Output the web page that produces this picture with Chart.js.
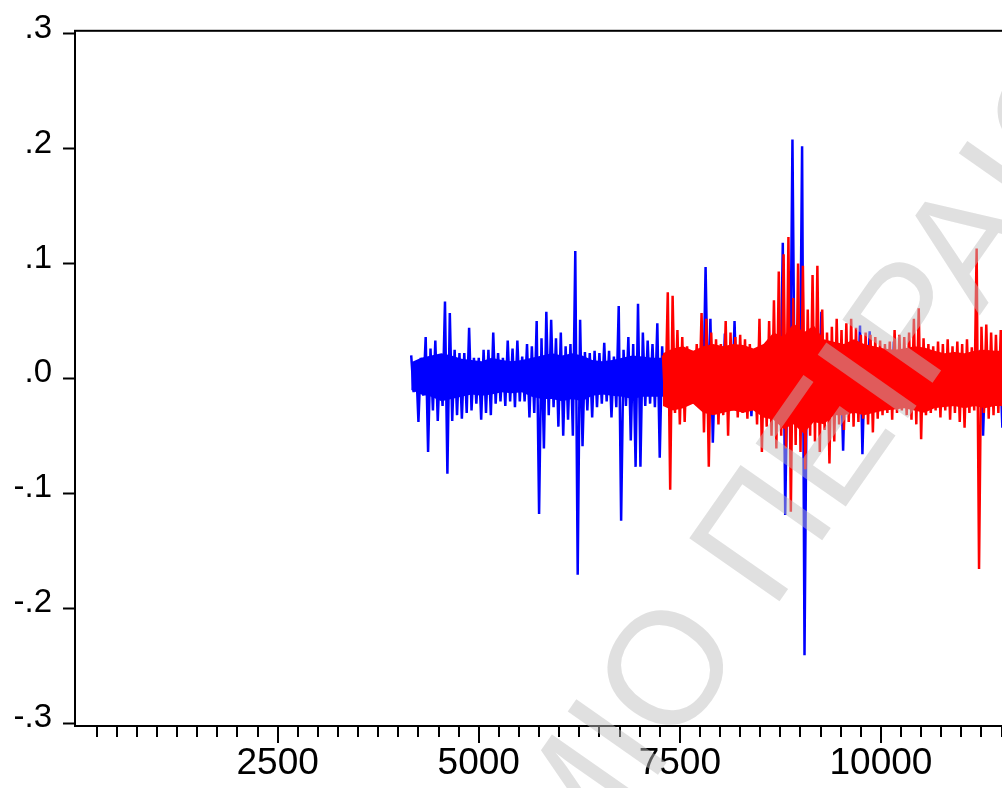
<!DOCTYPE html>
<html>
<head>
<meta charset="utf-8">
<script src="https://cdn.jsdelivr.net/npm/chart.js@4.4.1/dist/chart.umd.min.js"></script>
<style>
  html, body { margin: 0; padding: 0; background: #fff; overflow: hidden; }
  #wrap { width: 1100px; height: 788px; }
</style>
</head>
<body>
<div id="wrap"><canvas id="residChart" width="1100" height="788"></canvas></div>
<script>
// observation spacing of the stored points, first observation of each sample
const obsStep = 30;
const coreStep = 125;
const blueStart = 4160;
const redStart = 7290;

// full-sample residuals (alternating local high / local low)
const blueResid = [
  0.020,-0.012, 0.015,-0.038, 0.018,-0.015, 0.036,-0.064, 0.026,-0.028,
  0.033,-0.037, 0.019,-0.024, 0.067,-0.083, 0.057,-0.037, 0.025,-0.032,
  0.022,-0.035, 0.022,-0.030, 0.044,-0.028, 0.018,-0.022, 0.018,-0.036,
  0.025,-0.030, 0.025,-0.032, 0.040,-0.022, 0.022,-0.020, 0.018,-0.024,
  0.033,-0.020, 0.026,-0.025, 0.033,-0.020, 0.019,-0.020, 0.030,-0.034,
  0.028,-0.030, 0.050,-0.118, 0.035,-0.061, 0.058,-0.032, 0.051,-0.025,
  0.035,-0.042, 0.040,-0.050, 0.028,-0.036, 0.030,-0.050, 0.111,-0.171,
  0.051,-0.059, 0.023,-0.028, 0.022,-0.034, 0.024,-0.025, 0.022,-0.022,
  0.031,-0.020, 0.024,-0.034, 0.019,-0.025, 0.063,-0.124, 0.025,-0.024,
  0.036,-0.054, 0.030,-0.077, 0.065,-0.077, 0.040,-0.024, 0.033,-0.022,
  0.030,-0.025, 0.048,-0.069, 0.028,-0.022, 0.020,-0.020, 0.018,-0.022,
  0.020,-0.018, 0.019,-0.021, 0.018,-0.020, 0.020,-0.022, 0.017,-0.019,
  0.020,-0.021, 0.097,-0.020, 0.052,-0.056, 0.018,-0.020, 0.020,-0.022,
  0.039,-0.020, 0.018,-0.021, 0.050,-0.022, 0.019,-0.020, 0.020,-0.022,
  0.018,-0.033, 0.020,-0.021, 0.019,-0.020, 0.021,-0.022, 0.018,-0.020,
  0.020,-0.021, 0.019,-0.022, 0.118,-0.119, 0.020,-0.030, 0.208,-0.040,
  0.030,-0.035, 0.202,-0.241, 0.025,-0.030, 0.020,-0.025, 0.022,-0.024,
  0.058,-0.030, 0.020,-0.025, 0.022,-0.022, 0.019,-0.021, 0.020,-0.063,
  0.021,-0.022, 0.019,-0.020, 0.020,-0.022, 0.046,-0.066, 0.018,-0.021,
  0.041,-0.020, 0.019,-0.022, 0.020,-0.020, 0.018,-0.021, 0.019,-0.020,
  0.032,-0.022, 0.018,-0.020, 0.020,-0.021, 0.019,-0.022, 0.018,-0.020,
  0.020,-0.021, 0.019,-0.020, 0.018,-0.022, 0.020,-0.021, 0.019,-0.020,
  0.018,-0.022, 0.020,-0.020, 0.019,-0.021, 0.018,-0.020, 0.020,-0.022,
  0.019,-0.021, 0.018,-0.020, 0.020,-0.022, 0.025,-0.050, 0.019,-0.021,
  0.018,-0.020, 0.020,-0.022, 0.019,-0.043
];

// dense middle of the full sample: upper / lower edge every 125 obs
const blueCoreHi = [
  0.014, 0.018, 0.020, 0.022, 0.020, 0.017, 0.016, 0.015, 0.018, 0.016,
  0.015, 0.016, 0.018, 0.020, 0.022, 0.020, 0.022, 0.020, 0.016, 0.015,
  0.016, 0.018, 0.020, 0.019, 0.018, 0.018, 0.016, 0.016, 0.016, 0.016,
  0.016, 0.016, 0.016, 0.016, 0.016, 0.016, 0.016, 0.016, 0.016, 0.016,
  0.016, 0.016, 0.016, 0.016, 0.016, 0.016, 0.016, 0.016, 0.016, 0.016,
  0.016, 0.016, 0.016, 0.016, 0.016, 0.016, 0.016, 0.016, 0.016, 0.016, 0.016
];
const blueCoreLo = [
  -0.010, -0.014, -0.016, -0.020, -0.018, -0.016, -0.014, -0.015, -0.014, -0.012,
  -0.013, -0.012, -0.016, -0.018, -0.018, -0.020, -0.018, -0.020, -0.015, -0.014,
  -0.015, -0.016, -0.018, -0.016, -0.016, -0.016, -0.014, -0.014, -0.014, -0.014,
  -0.014, -0.014, -0.014, -0.014, -0.014, -0.014, -0.014, -0.014, -0.014, -0.014,
  -0.014, -0.014, -0.014, -0.014, -0.014, -0.014, -0.014, -0.014, -0.014, -0.014,
  -0.014, -0.014, -0.014, -0.014, -0.014, -0.014, -0.014, -0.014, -0.014, -0.014, -0.014
];

// second-sample residuals
const redResid = [
  0.020,-0.024, 0.075,-0.097, 0.072,-0.030, 0.042,-0.040, 0.036,-0.038,
  0.028,-0.022, 0.024,-0.018, 0.030,-0.022, 0.057,-0.047, 0.052,-0.077,
  0.040,-0.028, 0.034,-0.040, 0.030,-0.032, 0.050,-0.050, 0.040,-0.028,
  0.036,-0.034, 0.038,-0.030, 0.034,-0.035, 0.030,-0.026, 0.022,-0.040,
  0.052,-0.064, 0.030,-0.042, 0.050,-0.050, 0.068,-0.061, 0.093,-0.050,
  0.108,-0.061, 0.123,-0.116, 0.070,-0.058, 0.100,-0.064, 0.098,-0.079,
  0.060,-0.050, 0.090,-0.055, 0.098,-0.064, 0.060,-0.045, 0.040,-0.074,
  0.045,-0.055, 0.052,-0.040, 0.042,-0.045, 0.048,-0.038, 0.052,-0.042,
  0.044,-0.038, 0.038,-0.035, 0.040,-0.040, 0.038,-0.047, 0.036,-0.035,
  0.033,-0.032, 0.030,-0.030, 0.032,-0.036, 0.042,-0.030, 0.038,-0.028,
  0.036,-0.032, 0.040,-0.036, 0.052,-0.040, 0.061,-0.053, 0.035,-0.032,
  0.030,-0.030, 0.028,-0.028, 0.032,-0.034, 0.030,-0.028, 0.034,-0.036,
  0.028,-0.030, 0.032,-0.038, 0.030,-0.043, 0.034,-0.030, 0.027,-0.028,
  0.113,-0.166, 0.045,-0.030, 0.047,-0.035, 0.040,-0.032, 0.038,-0.030,
  0.042,-0.028
];

const redCoreHi = [
  0.022, 0.026, 0.028, 0.024, 0.028, 0.030, 0.028, 0.030, 0.029, 0.026,
  0.030, 0.040, 0.036, 0.048, 0.040, 0.046, 0.034, 0.032, 0.030, 0.034,
  0.030, 0.028, 0.026, 0.025, 0.026, 0.028, 0.027, 0.024, 0.022, 0.023,
  0.022, 0.024, 0.025, 0.024, 0.024
];
const redCoreLo = [
  -0.024, -0.028, -0.026, -0.022, -0.030, -0.032, -0.030, -0.028, -0.030, -0.028,
  -0.034, -0.036, -0.044, -0.040, -0.048, -0.038, -0.040, -0.032, -0.032, -0.030,
  -0.032, -0.030, -0.028, -0.027, -0.026, -0.028, -0.030, -0.026, -0.025, -0.024,
  -0.026, -0.024, -0.026, -0.024, -0.024
];

// axis ticks
const yTickValues = [-0.3, -0.2, -0.1, 0, 0.1, 0.2, 0.3];
const yTickLabels = ['-.3', '-.2', '-.1', '.0', '.1', '.2', '.3'];
const xLabelTicks = [2500, 5000, 7500, 10000];
const xMajorStep = 2500;
const xMinorStep = 250;
const xMax = 12500;

const toPoints = (vals, start, step) => vals.map((v, i) => ({ x: start + i * step, y: v }));

const xTickValues = [];
for (let t = xMinorStep; t <= xMax; t += xMinorStep) xTickValues.push(t);

// box around the plot + x tick marks (short minor, long major)
const framePlugin = {
  id: 'frame',
  afterDraw(chart) {
    const c = chart.ctx;
    const a = chart.chartArea;
    const xs = chart.scales.x;
    c.save();
    c.strokeStyle = '#000';
    c.lineWidth = 2;
    c.strokeRect(a.left, a.top, a.right - a.left, a.bottom - a.top);
    c.beginPath();
    for (const t of xTickValues) {
      const px = Math.round(xs.getPixelForValue(t));
      const len = t % xMajorStep === 0 ? 17 : 11;
      c.moveTo(px, a.bottom);
      c.lineTo(px, a.bottom + len);
    }
    c.stroke();
    c.restore();
  }
};

const watermarkPlugin = {
  id: 'watermark',
  afterDraw(chart) {
    const c = chart.ctx;
    c.save();
    c.translate(772, 612);
    c.rotate(-55 * Math.PI / 180);
    c.font = '160px "Liberation Sans", Arial, sans-serif';
    c.fillStyle = 'rgba(190,190,190,0.48)';
    c.textBaseline = 'alphabetic';
    c.textAlign = 'right';
    c.fillText('ΠΑΝΕΠΙΣΤΗΜΙΟ ', 0, 0);
    c.textAlign = 'left';
    c.fillText('ΠΕΙΡΑΙΩΣ', 0, 0);
    c.restore();
  }
};

const lineStyle = { borderWidth: 2.5, borderJoinStyle: 'bevel', pointRadius: 0, tension: 0 };
const coreStyle = { borderWidth: 0, pointRadius: 0, tension: 0 };

const ctx = document.getElementById('residChart').getContext('2d');
const residChart = new Chart(ctx, {
  type: 'line',
  data: {
    datasets: [
      { ...lineStyle, label: 'RESID02', data: toPoints(redResid, redStart, obsStep),
        borderColor: '#ff0000', fill: false, order: 0 },
      { ...coreStyle, label: 'RESID02 hi', data: toPoints(redCoreHi, redStart, coreStep),
        borderColor: '#ff0000', backgroundColor: '#ff0000', fill: '+1', order: 1 },
      { ...coreStyle, label: 'RESID02 lo', data: toPoints(redCoreLo, redStart, coreStep),
        borderColor: '#ff0000', fill: false, order: 2 },
      { ...lineStyle, label: 'RESID01', data: toPoints(blueResid, blueStart, obsStep),
        borderColor: '#0000ff', fill: false, order: 3 },
      { ...coreStyle, label: 'RESID01 hi', data: toPoints(blueCoreHi, blueStart, coreStep),
        borderColor: '#0000ff', backgroundColor: '#0000ff', fill: '+1', order: 4 },
      { ...coreStyle, label: 'RESID01 lo', data: toPoints(blueCoreLo, blueStart, coreStep),
        borderColor: '#0000ff', fill: false, order: 5 }
    ]
  },
  options: {
    responsive: false,
    animation: false,
    events: [],
    layout: { padding: { top: 26, right: 18, left: 0, bottom: 0 } },
    plugins: { legend: { display: false }, tooltip: { enabled: false } },
    scales: {
      x: {
        type: 'linear',
        min: -20,
        max: xMax,
        afterBuildTicks: s => { s.ticks = xLabelTicks.map(v => ({ value: v })); },
        afterFit: s => { s.height = 62; },
        grid: { drawOnChartArea: false, drawTicks: false },
        border: { display: false },
        ticks: {
          autoSkip: false,
          maxRotation: 0,
          padding: 16,
          color: '#000',
          font: { family: '"Liberation Sans", Arial, sans-serif', size: 37 },
          callback: v => String(v)
        }
      },
      y: {
        min: -0.3026,
        max: 0.3026,
        afterBuildTicks: s => { s.ticks = yTickValues.map(v => ({ value: v })); },
        afterFit: s => { s.width = 75; },
        grid: { drawOnChartArea: false, drawTicks: true, tickLength: 12, tickWidth: 2, tickColor: '#000' },
        border: { display: false },
        ticks: {
          padding: 11,
          labelOffset: -5,
          color: '#000',
          font: { family: '"Liberation Sans", Arial, sans-serif', size: 33 },
          callback: (v, i) => yTickLabels[i]
        }
      }
    }
  },
  plugins: [framePlugin, watermarkPlugin]
});
</script>
</body>
</html>
